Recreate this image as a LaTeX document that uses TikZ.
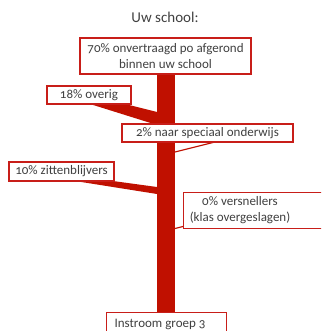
\documentclass[tikz,border=0pt]{standalone}
\usepackage{fontspec}
\setmainfont{Carlito}[Numbers=OldStyle]
\definecolor{trunkred}{RGB}{192,16,0}
\definecolor{boxred}{RGB}{200,30,25}
\definecolor{txtgrey}{RGB}{64,64,64}
\begin{document}
\begin{tikzpicture}[x=1pt,y=-1pt,
  box/.style={draw=boxred,line width=1.3pt,fill=white,inner sep=0pt,
    font=\fontsize{13}{16}\selectfont,text=txtgrey,align=center},
  lbl/.style={inner sep=0pt,font=\fontsize{13}{16}\selectfont,text=txtgrey,align=center},
  flow/.style={fill=trunkred,draw=none},
  thin/.style={draw=trunkred,line width=1.1pt}]
\useasboundingbox (0,0) rectangle (321,331);
\clip (0,0) rectangle (321,331);
\node[lbl,font=\fontsize{15}{18}\selectfont] (title) at (165,17) {Uw school:};
% trunk
\fill[trunkred] (157,74) rectangle (175,312);
% wedges
\fill[trunkred] (90,104) -- (125,104) -- (157,112) -- (157,125) -- cycle;
\fill[trunkred] (75,181) -- (113,181) -- (157,187) -- (157,194) -- cycle;
\draw[thin] (175,152) -- (215,142);
\draw[thin] (175,228.5) -- (183,226.5);
% boxes
\node[box,minimum width=171pt,minimum height=36pt] (b70) at (165.5,56)
  {70\% onvertraagd po afgerond\\binnen uw school};
\node[box,minimum width=84pt,minimum height=18pt] (b18) at (89,95) {18\% overig};
\node[box,minimum width=171pt,minimum height=18pt] (b2) at (207.5,133) {2\% naar speciaal onderwijs};
\node[box,minimum width=105pt,minimum height=19pt] (b10) at (61.5,171.5) {10\% zittenblijvers};
\node[box,minimum width=150pt,minimum height=36pt,anchor=north west] (b0) at (183,192) {};
\node[lbl] (b0t) at (240,210) {0\% versnellers\\(klas overgeslagen)};
\node[box,minimum width=120pt,minimum height=30pt,anchor=north west] (bin) at (106,312) {};
\node[lbl] (bint) at (160,324) {Instroom groep 3};
\end{tikzpicture}
\end{document}
